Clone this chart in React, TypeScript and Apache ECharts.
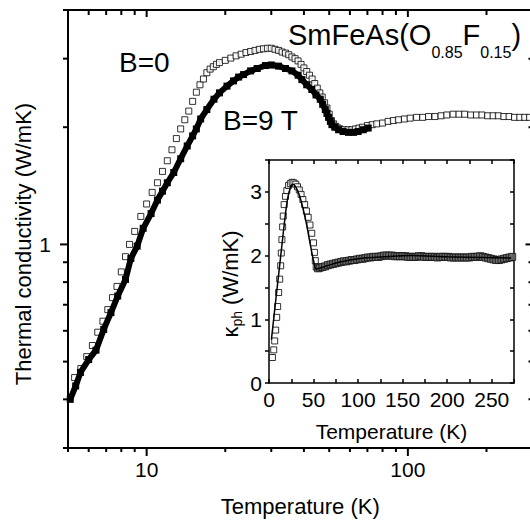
import React, { useEffect, useRef } from "react";
import * as echarts from "echarts";

const FONT = "'Liberation Sans', Arial, Helvetica, sans-serif";

// Main panel, B = 0 (open squares): temperature (K) and thermal conductivity (W/mK)
const tB0 = [5.3, 5.6, 5.9, 6.2, 6.5, 6.8, 7.1, 7.4, 7.7, 8.0, 8.3, 8.6, 9.0, 9.5, 10, 10.5, 11, 11.5, 12, 12.5, 13, 13.5, 14, 14.5, 15, 15.5, 16, 16.5, 17, 17.5, 18, 18.5, 19, 20, 21, 22, 23, 24, 25, 26, 27, 28, 29, 30, 31, 32, 33, 34, 35, 36, 37, 38, 39, 40, 41, 42, 43, 44, 45, 46, 47, 48, 49, 50, 51, 52, 53, 54, 55, 57, 59, 61, 63, 65, 67, 70, 73, 76, 80, 84, 88, 92, 97, 102, 108, 114, 120, 127, 134, 141, 149, 157, 165, 174, 183, 192, 202, 212, 222, 233, 244, 256, 268, 280, 292];
const kB0 = [0.455, 0.48, 0.515, 0.55, 0.595, 0.635, 0.68, 0.73, 0.78, 0.85, 0.93, 1.0, 1.08, 1.18, 1.27, 1.36, 1.44, 1.54, 1.64, 1.75, 1.87, 1.98, 2.09, 2.2, 2.33, 2.46, 2.57, 2.66, 2.76, 2.82, 2.86, 2.9, 2.93, 2.97, 3.01, 3.05, 3.08, 3.11, 3.13, 3.15, 3.17, 3.18, 3.19, 3.19, 3.17, 3.15, 3.12, 3.1, 3.07, 3.03, 3.0, 2.96, 2.9, 2.84, 2.78, 2.72, 2.66, 2.59, 2.52, 2.45, 2.39, 2.31, 2.24, 2.16, 2.08, 2.04, 2.01, 1.99, 1.98, 1.97, 1.97, 1.97, 1.98, 1.99, 2.0, 2.02, 2.03, 2.04, 2.05, 2.07, 2.08, 2.09, 2.1, 2.11, 2.12, 2.12, 2.13, 2.13, 2.14, 2.15, 2.16, 2.16, 2.16, 2.15, 2.15, 2.15, 2.14, 2.14, 2.14, 2.13, 2.13, 2.12, 2.12, 2.12, 2.12];

// Main panel, B = 9 T (filled squares)
const tB9 = [5.1, 5.35, 5.58, 6.0, 6.4, 6.85, 7.3, 7.75, 8.3, 8.7, 9.2, 9.7, 10.4, 11, 11.5, 12, 12.7, 13.5, 14.3, 15, 15.5, 16.1, 17, 18.1, 19, 20.3, 21.5, 22.5, 23.5, 25, 26.5, 28.5, 30, 32, 34, 36, 38, 39.3, 41, 42.9, 44.5, 46.2, 47.2, 48.3, 49, 49.7, 50.5, 51.2, 52.5, 54.3, 56.5, 59.2, 62, 64.5, 67.5, 70.5];
const kB9 = [0.40, 0.433, 0.469, 0.506, 0.535, 0.605, 0.668, 0.737, 0.813, 0.92, 0.99, 1.1, 1.2, 1.3, 1.37, 1.44, 1.53, 1.66, 1.79, 1.9, 1.98, 2.1, 2.22, 2.36, 2.45, 2.55, 2.63, 2.69, 2.73, 2.79, 2.83, 2.88, 2.89, 2.87, 2.83, 2.79, 2.72, 2.65, 2.57, 2.5, 2.42, 2.36, 2.29, 2.22, 2.17, 2.12, 2.07, 2.03, 2.0, 1.97, 1.95, 1.94, 1.94, 1.95, 1.97, 1.99];

// Inset: phonon thermal conductivity (open squares)
const tPh = [3.8, 5.3, 6.4, 7.5, 8.6, 9.7, 10.8, 12, 13.1, 13.8, 14.5, 15.3, 16, 17, 18.5, 20, 22, 24, 26, 28, 30, 32, 34, 36, 38, 40, 42, 44, 46, 48, 50, 51, 52, 53, 55, 57, 60, 63, 66, 69, 72, 75, 78, 81, 84, 87, 90, 93, 96, 99, 102, 105, 108, 111, 114, 117, 120, 123, 126, 129, 132, 135, 138, 141, 144, 147, 150, 153, 156, 159, 162, 165, 168, 171, 174, 177, 180, 183, 186, 189, 192, 195, 198, 201, 204, 207, 210, 213, 216, 219, 222, 225, 228, 231, 234, 237, 240, 243, 246, 249, 252, 255, 258, 261, 264, 267, 270, 273];
const kPh = [0.40, 0.52, 0.66, 0.83, 1.03, 1.20, 1.42, 1.63, 1.84, 2.04, 2.25, 2.45, 2.62, 2.8, 2.93, 3.02, 3.1, 3.13, 3.15, 3.14, 3.12, 3.08, 3.03, 2.96, 2.88, 2.8, 2.7, 2.6, 2.48, 2.35, 2.2, 2.05, 1.92, 1.82, 1.8, 1.81, 1.82, 1.83, 1.85, 1.86, 1.87, 1.88, 1.89, 1.9, 1.91, 1.91, 1.92, 1.93, 1.93, 1.94, 1.95, 1.95, 1.96, 1.97, 1.97, 1.98, 1.98, 1.98, 1.99, 2.0, 2.0, 2.0, 2.0, 1.99, 1.99, 1.99, 1.99, 1.99, 1.98, 1.98, 1.98, 1.98, 1.99, 1.99, 1.98, 1.98, 1.98, 1.98, 1.98, 1.97, 1.98, 1.98, 1.98, 1.98, 1.97, 1.97, 1.97, 1.97, 1.97, 1.97, 1.97, 1.97, 1.98, 1.98, 1.98, 1.99, 1.98, 1.97, 1.96, 1.95, 1.94, 1.93, 1.93, 1.94, 1.95, 1.96, 1.97, 1.98];

// Inset: fitted curve (solid line)
const tFit = [2.7, 6, 10, 14, 18, 21, 24, 27, 30, 34, 38, 42, 46, 50, 53, 57, 65, 80, 100, 130, 160, 200, 240, 272];
const kFit = [0.68, 1.1, 1.6, 2.1, 2.6, 2.9, 3.07, 3.12, 3.08, 2.95, 2.75, 2.5, 2.2, 1.92, 1.79, 1.8, 1.84, 1.9, 1.95, 1.98, 2.0, 1.98, 1.97, 1.96];

// Tick positions of the main (log-log) panel
const mainXMajor = [10, 100];
const mainXMinor = [5, 6, 7, 8, 9, 20, 30, 40, 50, 60, 70, 80, 90, 200, 300];
const mainYMajor = [1];
const mainYMinor = [0.3, 0.4, 0.5, 0.6, 0.7, 0.8, 0.9, 2, 3, 4];

const zip = (a: number[], b: number[]) => a.map((v, i) => [v, b[i]]);

export default function App() {
  const ref = useRef<HTMLDivElement>(null);
  useEffect(() => {
    if (!ref.current) return;
    const chart = echarts.init(ref.current, undefined, { renderer: "svg" });
    const black = "#000";
    const lbl = () => ({ color: black, fontFamily: FONT, fontSize: 21 });
    const line2 = () => ({ onZero: false, lineStyle: { color: black, width: 2 } });
    const line15 = () => ({ onZero: false, lineStyle: { color: black, width: 1.5 } });
    const tk = (inside: boolean) => ({ inside, length: 4, lineStyle: { color: black, width: 1.5 } });
    const option: any = {
      animation: false,
      backgroundColor: "#fff",
      textStyle: { fontFamily: FONT, color: black },
      grid: [
        {
          left: 68, top: 10, width: 464.5, height: 438, outerBoundsMode: "none",
          show: true, borderColor: black, borderWidth: 2, backgroundColor: "transparent",
        },
        {
          left: 269, top: 160, width: 245, height: 223, outerBoundsMode: "none",
          show: true, backgroundColor: "#fff", borderWidth: 0,
        },
      ],
      xAxis: [
        {
          type: "log", logBase: 10, min: 5, max: 300, gridIndex: 0, position: "bottom",
          axisLine: line2(), axisTick: { show: false }, splitLine: { show: false },
          axisLabel: { ...lbl(), margin: 11, showMinLabel: false, showMaxLabel: false },
          name: "Temperature (K)", nameLocation: "middle", nameGap: 47,
          nameTextStyle: { color: black, fontFamily: FONT, fontSize: 22 },
        },
        {
          type: "log", logBase: 10, min: 5, max: 300, gridIndex: 0, position: "top",
          axisLine: line2(), axisTick: { show: false }, axisLabel: { show: false }, splitLine: { show: false },
        },
        {
          type: "value", min: 0, max: 275, interval: 25, gridIndex: 1, position: "bottom",
          axisLine: line15(), axisTick: tk(true), splitLine: { show: false },
          axisLabel: { ...lbl(), margin: 6, formatter: (v: number) => (v % 50 === 0 ? String(v) : "") },
          name: "Temperature (K)", nameLocation: "middle", nameGap: 38,
          nameTextStyle: { color: black, fontFamily: FONT, fontSize: 21 },
        },
        {
          type: "value", min: 0, max: 275, interval: 25, gridIndex: 1, position: "top",
          axisLine: line15(), axisTick: tk(true), splitLine: { show: false }, axisLabel: { show: false },
        },
      ],
      yAxis: [
        {
          type: "log", logBase: 10, min: 0.3, max: 4, gridIndex: 0, position: "left",
          axisLine: line2(), axisTick: { show: false }, splitLine: { show: false },
          axisLabel: { ...lbl(), margin: 17, showMinLabel: false, showMaxLabel: false },
        },
        {
          type: "log", logBase: 10, min: 0.3, max: 4, gridIndex: 0, position: "right",
          axisLine: line2(), axisTick: { show: false }, axisLabel: { show: false }, splitLine: { show: false },
        },
        {
          type: "value", min: 0, max: 3.5, interval: 0.5, gridIndex: 1, position: "left",
          axisLine: line15(), axisTick: tk(false), splitLine: { show: false },
          axisLabel: { ...lbl(), margin: 7, formatter: (v: number) => (Number.isInteger(v) ? String(v) : "") },
        },
        {
          type: "value", min: 0, max: 3.5, interval: 0.5, gridIndex: 1, position: "right",
          axisLine: line15(), axisTick: tk(true), splitLine: { show: false }, axisLabel: { show: false },
        },
      ],
      series: [
        {
          name: "B=0", type: "scatter", xAxisIndex: 0, yAxisIndex: 0,
          symbol: "rect", symbolSize: 6,
          itemStyle: { color: "#fff", borderColor: black, borderWidth: 1 },
          data: zip(tB0, kB0), z: 3,
        },
        {
          name: "B=9 T", type: "line", xAxisIndex: 0, yAxisIndex: 0,
          symbol: "rect", symbolSize: 7, showSymbol: true, showAllSymbol: true,
          itemStyle: { color: black }, lineStyle: { color: black, width: 6 },
          data: zip(tB9, kB9), z: 4,
        },
        {
          name: "kph", type: "scatter", xAxisIndex: 2, yAxisIndex: 2,
          symbol: "rect", symbolSize: 6,
          itemStyle: { color: "#fff", borderColor: black, borderWidth: 1 },
          data: zip(tPh, kPh).map(([t, k]) =>
            t >= 55
              ? { value: [t, k], symbolSize: 7, itemStyle: { color: "#6a6a6a", borderColor: "#111", borderWidth: 1 } }
              : [t, k]
          ),
          z: 3,
        },
        {
          name: "fit", type: "line", xAxisIndex: 2, yAxisIndex: 2,
          symbol: "none", smooth: 0.3,
          lineStyle: { color: black, width: 1.5 },
          data: zip(tFit, kFit), z: 4,
        },
      ],
    };
    chart.setOption(option);

    const toPx = (x: number, y: number) =>
      chart.convertToPixel({ xAxisIndex: 0, yAxisIndex: 0 }, [x, y]) as number[];
    const [xl, yb] = toPx(5, 0.3);
    const [xr, yt] = toPx(300, 4);
    const g: any[] = [];
    const seg = (x1: number, y1: number, x2: number, y2: number) =>
      g.push({ type: "line", silent: true, z: 10, shape: { x1, y1, x2, y2 }, style: { stroke: black, lineWidth: 2 } });
    // top frame edge of the main panel
    g.push({ type: "rect", silent: true, z: 10, shape: { x: xl - 1, y: yt - 1, width: xr - xl + 2, height: 2 }, style: { fill: black } });
    mainXMajor.forEach((v) => {
      const px = toPx(v, 1)[0];
      seg(px, yb, px, yb + 8);
      seg(px, yt, px, yt + 7);
    });
    mainXMinor.forEach((v) => {
      const px = toPx(v, 1)[0];
      seg(px, yb, px, yb + 4);
      seg(px, yt, px, yt + 5);
    });
    mainYMajor.forEach((v) => {
      const py = toPx(10, v)[1];
      seg(xl - 8, py, xl, py);
      seg(xr - 7, py, xr, py);
    });
    mainYMinor.forEach((v) => {
      const py = toPx(10, v)[1];
      seg(xl - 5, py, xl, py);
      seg(xr - 4, py, xr, py);
    });

    g.push({
      type: "text", x: 23, y: 244, rotation: Math.PI / 2,
      style: { text: "Thermal conductivity (W/mK)", fill: black, font: `22px ${FONT}`, align: "center", verticalAlign: "middle" },
    });
    g.push({
      type: "text", x: 230, y: 284, rotation: Math.PI / 2,
      style: {
        text: "κ{s|ph} (W/mK)", fill: black, fontFamily: FONT, fontSize: 22, lineHeight: 28,
        align: "center", verticalAlign: "middle",
        rich: { s: { fontFamily: FONT, fontSize: 14, lineHeight: 14, verticalAlign: "bottom", fill: black } },
      },
    });
    g.push({
      type: "text", x: 288, y: 9.5,
      style: {
        text: "SmFeAs(O{s|0.85}F{s|0.15})", fill: black, fontFamily: FONT, fontSize: 29, lineHeight: 51,
        align: "left", verticalAlign: "top",
        rich: { s: { fontFamily: FONT, fontSize: 16, lineHeight: 16, verticalAlign: "bottom", fill: black } },
      },
    });
    g.push({
      type: "text", x: 119, y: 62,
      style: { text: "B=0", fill: black, font: `28px ${FONT}`, align: "left", verticalAlign: "middle" },
    });
    g.push({
      type: "text", x: 223, y: 120,
      style: { text: "B=9 T", fill: black, font: `28px ${FONT}`, align: "left", verticalAlign: "middle" },
    });
    chart.setOption({ graphic: g });

    return () => chart.dispose();
  }, []);
  return (
    <div
      ref={ref}
      style={{ position: "absolute", left: 0, top: 0, width: 530, height: 523 }}
    />
  );
}
